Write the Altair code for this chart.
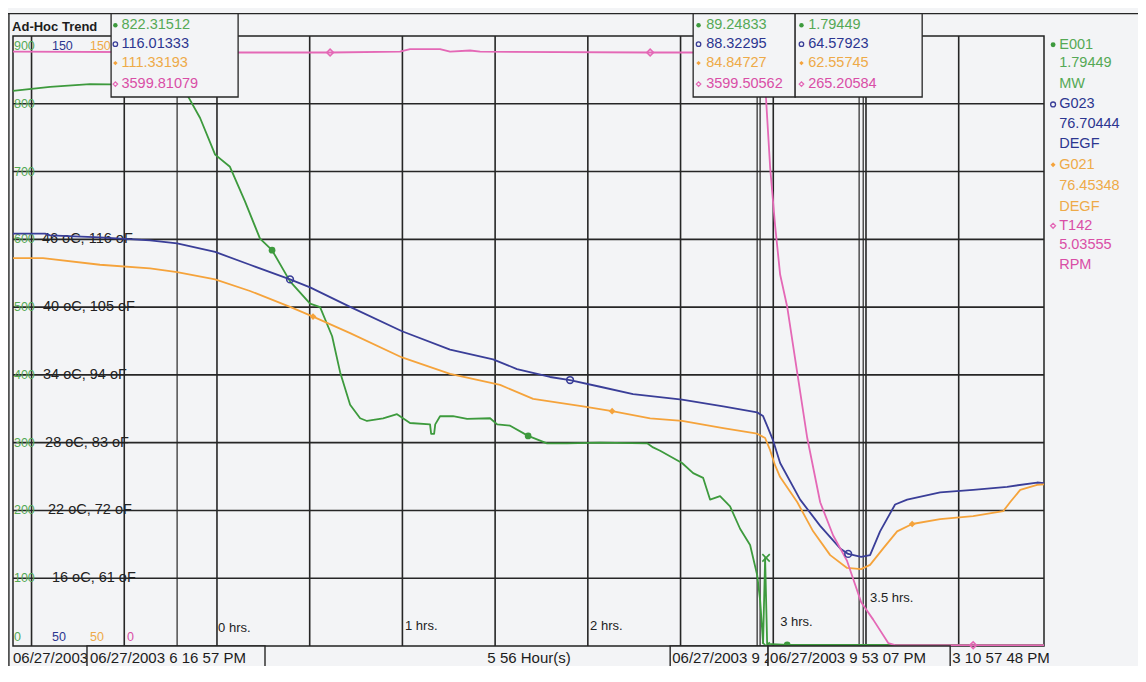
import altair as alt
import pandas as pd

# ---------------- data ----------------
# x = elapsed hours since the trend start (06/27/2003, about 5:24 PM)
e001_hours = [0.000, 0.200, 0.415, 0.739, 0.885, 0.944, 1.009, 1.090, 1.170, 1.251, 1.332, 1.397,
              1.494, 1.602, 1.656, 1.721, 1.764, 1.818, 1.872, 1.909, 1.996, 2.071, 2.141, 2.249,
              2.255, 2.271, 2.277, 2.303, 2.373, 2.449, 2.573, 2.611, 2.681, 2.778, 2.880, 2.988,
              3.166, 3.420, 3.452, 3.490, 3.608, 3.668, 3.722, 3.759, 3.813, 3.867, 3.921, 3.975,
              4.013, 4.029, 4.045, 4.056, 4.067, 4.175, 5.560]
e001_mw = [819, 825, 829, 828, 822.3, 811, 779, 725, 707, 656, 601, 584,
           538, 505, 500, 457, 404, 356, 336, 332, 336, 342, 329, 327,
           313, 313, 327, 339, 339, 335, 336, 327, 325, 310, 299, 299,
           300, 299, 293, 288, 270, 255, 248, 216, 221, 206, 173, 149,
           105, 68, 4, 130, 3, 1.8, 1.8]

g023_hours = [0.000, 0.173, 0.200, 0.469, 0.739, 0.885, 1.090, 1.278, 1.494, 1.602, 1.818, 2.098,
              2.357, 2.589, 2.718, 2.896, 3.004, 3.166, 3.344, 3.608, 3.830, 4.013, 4.045, 4.067,
              4.099, 4.137, 4.245, 4.353, 4.461, 4.504, 4.574, 4.622, 4.676, 4.757, 4.822, 5.000,
              5.178, 5.361, 5.523, 5.560]
g023_degf = [117.6, 117.6, 117.3, 117.0, 116.5, 116.0, 114.6, 112.5, 110.1, 108.8, 105.6, 101.6,
             98.6, 97.0, 95.4, 94.1, 93.6, 92.5, 91.3, 90.4, 89.3, 88.3, 87.7, 86.1,
             83.7, 80.0, 74.0, 69.7, 66.0, 65.1, 64.6, 64.9, 68.8, 73.2, 74.0, 75.2,
             75.6, 76.1, 76.8, 76.7]

g021_hours = [0.000, 0.162, 0.469, 0.739, 0.885, 1.090, 1.278, 1.494, 1.618, 1.818, 2.098, 2.357,
              2.627, 2.805, 3.074, 3.231, 3.436, 3.608, 3.830, 4.013, 4.056, 4.083, 4.110, 4.137,
              4.229, 4.315, 4.407, 4.498, 4.574, 4.622, 4.693, 4.768, 4.849, 5.000, 5.178, 5.340,
              5.378, 5.432, 5.523, 5.560]
g021_degf = [113.6, 113.6, 112.5, 111.9, 111.3, 110.1, 108.2, 105.6, 104.0, 101.3, 97.3, 94.6,
             92.8, 90.5, 89.3, 88.5, 87.3, 86.9, 85.7, 84.8, 84.1, 82.1, 79.6, 77.7,
             73.6, 68.8, 64.9, 62.8, 62.6, 63.3, 66.0, 68.8, 70.0, 70.8, 71.3, 72.1,
             73.6, 75.6, 76.4, 76.5]

t142_hours = [0.000, 1.225, 1.710, 2.087, 2.141, 2.303, 2.357, 2.465, 2.519, 3.436, 3.652, 4.013,
              4.040, 4.061, 4.083, 4.110, 4.137, 4.175, 4.229, 4.283, 4.353, 4.423, 4.498, 4.574,
              4.639, 4.720, 4.757, 5.560]
t142_rpm = [3605, 3600, 3600, 3605, 3620, 3620, 3605, 3612, 3605, 3600, 3600, 3599.5,
            3557, 3320, 2905, 2549, 2253, 2058, 1660, 1263, 872, 670, 516, 265,
            160, 18, 5, 5]

# marker symbols drawn on the traces
e001_marker_hours = [1.397, 2.778, 4.175]
e001_marker_mw = [584, 310, 1.8]
e001_flag_hours = [4.061, 4.061]
e001_flag_mw = [130, 0]
g023_marker_hours = [1.494, 3.004, 4.504]
g023_marker_degf = [110.1, 93.6, 65.1]
g021_marker_hours = [1.618, 3.231, 4.849]
g021_marker_degf = [104.0, 88.5, 70.0]
t142_marker_hours = [1.710, 3.436, 5.178]
t142_marker_rpm = [3600, 3600, 5]

# cursors and grid
cursor_hours = [0.885, 4.013, 4.029, 4.563, 4.585]
grid_hours = [0.1, 0.6, 1.1, 1.6, 2.1, 2.6, 3.1, 3.6, 4.1, 4.6, 5.1]
grid_mw = [100, 200, 300, 400, 500, 600, 700, 800]

# texts
mw_ticks = [800, 700, 600, 500, 400, 300, 200, 100]
scale_top = ["900", "150", "150"]
scale_bottom = ["0", "50", "50", "0"]
temp_labels = ["46 oC, 116 oF", "40 oC, 105 oF", "34 oC, 94 oF", "28 oC, 83 oF", "22 oC, 72 oF", "16 oC, 61 oF"]
temp_label_mw = [600, 500, 400, 300, 200, 100]
hour_marks = ["0 hrs.", "1 hrs.", "2 hrs.", "3 hrs.", "3.5 hrs."]
cursor1_values = ["822.31512", "116.01333", "111.33193", "3599.81079"]
cursor2_values = ["89.24833", "88.32295", "84.84727", "3599.50562"]
cursor3_values = ["1.79449", "64.57923", "62.55745", "265.20584"]
tag_names = ["E001", "G023", "G021", "T142"]
tag_last = ["1.79449", "76.70444", "76.45348", "5.03555"]
tag_units = ["MW", "DEGF", "DEGF", "RPM"]
time_labels = ["06/27/2003", "06/27/2003 6 16 57 PM", "5 56 Hour(s)",
               "06/27/2003 9 2", "06/27/2003 9 53 07 PM", "3 10 57 48 PM"]

# ---------------- layout (chart units: hours across, MW-scale up) ----------------
temp_label_x = [0.156, 0.162, 0.162, 0.173, 0.189, 0.210]
hour_mark_x = [1.106, 2.114, 3.112, 4.137, 4.622]
hour_mark_y = [27, 30, 30, 36, 71]
scale_row_x = [0.005, 0.210, 0.415, 0.615]
box_x1 = [0.529, 3.668, 4.218]
box_x2 = [1.214, 4.218, 4.903]
box_sym_x = [0.552, 3.697, 4.252]
box_txt_x = [0.585, 3.738, 4.288]
box_row_y = [916, 888, 860, 829]
legend_sym_x = 5.609
legend_txt_x = 5.642
legend_row_y = [887, 860, 829, 799, 770, 740, 710, 679, 648, 620, 591, 562]
time_label_x = [0.0, 0.415, 2.783, 3.555, 4.083, 5.065]
time_label_align = ["left", "left", "center", "left", "left", "left"]
time_box_x1 = [None, 0.399, None, 3.544, 4.072, None]
time_box_x2 = [None, 1.359, None, 4.072, 5.054, None]

BG = "#f3f4f6"
INK = "#1c1c1c"
FONT = "Liberation Sans"
GREEN, GREEN_T = "#3d9a3d", "#55a955"
BLUE, BLUE_T = "#3a3e98", "#2c3690"
ORANGE, ORANGE_T = "#f5a33b", "#eeaa48"
PINK, PINK_T = "#e468b6", "#d94ea6"
SER_COL = [GREEN, BLUE, ORANGE, PINK]
SER_TXT = [GREEN_T, BLUE_T, ORANGE_T, PINK_T]
SHAPES = ["circle", "circle", "diamond", "diamond"]
FILLED = [True, False, True, False]
GRID = "#262626"

W, H = 1031, 610
XDOM = [0, 5.56]
MWDOM = [0, 900]
FDOM = [50, 150]
RPMDOM = [0, 3700]


def xe(f="h"):
    return alt.X(f"{f}:Q", scale=alt.Scale(domain=XDOM, nice=False, zero=False), axis=None)


def ye(f="v", dom=MWDOM):
    return alt.Y(f"{f}:Q", scale=alt.Scale(domain=dom, nice=False, zero=False), axis=None)


def frame(**cols):
    return pd.DataFrame(cols)


def text_layer(d, color, size, align="left", weight="normal", baseline="middle", dy=0):
    return alt.Chart(d).mark_text(align=align, baseline=baseline, font=FONT, fontSize=size,
                                  fontWeight=weight, color=color, dy=dy).encode(
        x=xe(), y=ye(), text="t:N")


layers = []

# grid and cursors
layers.append(alt.Chart(frame(h=grid_hours)).mark_rule(color=GRID, strokeWidth=1.6).encode(x=xe()))
layers.append(alt.Chart(frame(v=grid_mw)).mark_rule(color=GRID, strokeWidth=1.6).encode(y=ye()))
layers.append(alt.Chart(frame(h=cursor_hours)).mark_rule(color=GRID, strokeWidth=1.2).encode(x=xe()))

# scale labels inside plot
layers.append(text_layer(frame(h=[scale_row_x[0]] * len(mw_ticks), v=mw_ticks, t=[str(m) for m in mw_ticks]),
                         GREEN_T, 12.5))
for i, (t, c) in enumerate(zip(scale_top, SER_TXT)):
    layers.append(text_layer(frame(h=[scale_row_x[i]], v=[900], t=[t]), c, 12.5, baseline="top", dy=4))
for i, (t, c) in enumerate(zip(scale_bottom, SER_TXT)):
    layers.append(text_layer(frame(h=[scale_row_x[i]], v=[0], t=[t]), c, 12.5, baseline="bottom", dy=-2))
layers.append(text_layer(frame(h=temp_label_x, v=temp_label_mw, t=temp_labels), "#222222", 14.5))

# traces
traces = [(e001_hours, e001_mw, MWDOM), (g023_hours, g023_degf, FDOM),
          (g021_hours, g021_degf, FDOM), (t142_hours, t142_rpm, RPMDOM)]
for (hh, vv, dom), col in zip(traces, SER_COL):
    d = frame(h=hh, v=vv, i=list(range(len(hh))))
    layers.append(alt.Chart(d).mark_line(color=col, strokeWidth=1.8, strokeJoin="round").encode(
        x=xe(), y=ye("v", dom), order="i:Q"))

markers = [(e001_marker_hours, e001_marker_mw, MWDOM), (g023_marker_hours, g023_marker_degf, FDOM),
           (g021_marker_hours, g021_marker_degf, FDOM), (t142_marker_hours, t142_marker_rpm, RPMDOM)]
for (hh, vv, dom), col, shp, fil in zip(markers, SER_COL, SHAPES, FILLED):
    layers.append(alt.Chart(frame(h=hh, v=vv)).mark_point(shape=shp, filled=fil, color=col, size=45,
                                                          strokeWidth=1.6, opacity=1).encode(
        x=xe(), y=ye("v", dom)))
layers.append(alt.Chart(frame(h=e001_flag_hours, v=e001_flag_mw)).mark_point(
    shape="M-1,-1L1,1M-1,1L1,-1", filled=False, color=GREEN, size=55, strokeWidth=1.6, opacity=1).encode(
    x=xe(), y=ye()))

# hour annotations
layers.append(text_layer(frame(h=hour_mark_x, v=hour_mark_y, t=hour_marks), "#222222", 13))

# outer frame lines
layers.append(alt.Chart(frame(h=[-0.03], h2=[6.2], v=[933])).mark_rule(color=GRID, strokeWidth=1.4).encode(
    x=xe(), x2="h2:Q", y=ye()))
layers.append(alt.Chart(frame(h=[-0.022], v=[933], v2=[-60])).mark_rule(color=GRID, strokeWidth=1.4).encode(
    x=xe(), y=ye(), y2="v2:Q"))

# title
layers.append(text_layer(frame(h=[-0.005], v=[913], t=["Ad-Hoc Trend"]), INK, 13, weight="bold"))

# cursor value boxes
layers.append(alt.Chart(frame(h=box_x1, h2=box_x2, v=[810] * 3, v2=[933] * 3)).mark_rect(
    fill=BG, stroke=GRID, strokeWidth=1.3).encode(x=xe(), x2="h2:Q", y=ye(), y2="v2:Q"))
for b, vals in enumerate([cursor1_values, cursor2_values, cursor3_values]):
    for r in range(4):
        layers.append(alt.Chart(frame(h=[box_sym_x[b]], v=[box_row_y[r]])).mark_point(
            shape=SHAPES[r], filled=FILLED[r], color=SER_COL[r], size=20, strokeWidth=1.3, opacity=1).encode(
            x=xe(), y=ye()))
        layers.append(text_layer(frame(h=[box_txt_x[b]], v=[box_row_y[r]], t=[vals[r]]), SER_TXT[r], 14.5))

# right-hand tag legend
for r in range(4):
    ys = legend_row_y[3 * r:3 * r + 3]
    layers.append(alt.Chart(frame(h=[legend_sym_x], v=[ys[0]])).mark_point(
        shape=SHAPES[r], filled=FILLED[r], color=SER_COL[r], size=24, strokeWidth=1.3, opacity=1).encode(
        x=xe(), y=ye()))
    layers.append(text_layer(frame(h=[legend_txt_x] * 3, v=ys, t=[tag_names[r], tag_last[r], tag_units[r]]),
                             SER_TXT[r], 14.5))

# bottom time row: each boxed label covers the overflow of the previous one
for i, t in enumerate(time_labels):
    if time_box_x1[i] is not None:
        layers.append(alt.Chart(frame(h=[time_box_x1[i]], h2=[time_box_x2[i]], v=[0], v2=[-60])).mark_rect(
            fill=BG, stroke=GRID, strokeWidth=1.4).encode(x=xe(), x2="h2:Q", y=ye(), y2="v2:Q"))
    layers.append(text_layer(frame(h=[time_label_x[i]], v=[-17], t=[t]), INK, 15, align=time_label_align[i]))

chart = alt.layer(*layers).resolve_scale(y="independent").properties(
    width=W, height=H, background=BG,
    padding={"left": 5, "top": 28, "right": 94, "bottom": 20},
    autosize=alt.AutoSizeParams(type="none"),
).configure_view(stroke="#222222", strokeWidth=1.5)

chart.save("out.html", embed_options={"renderer": "svg", "actions": False})
